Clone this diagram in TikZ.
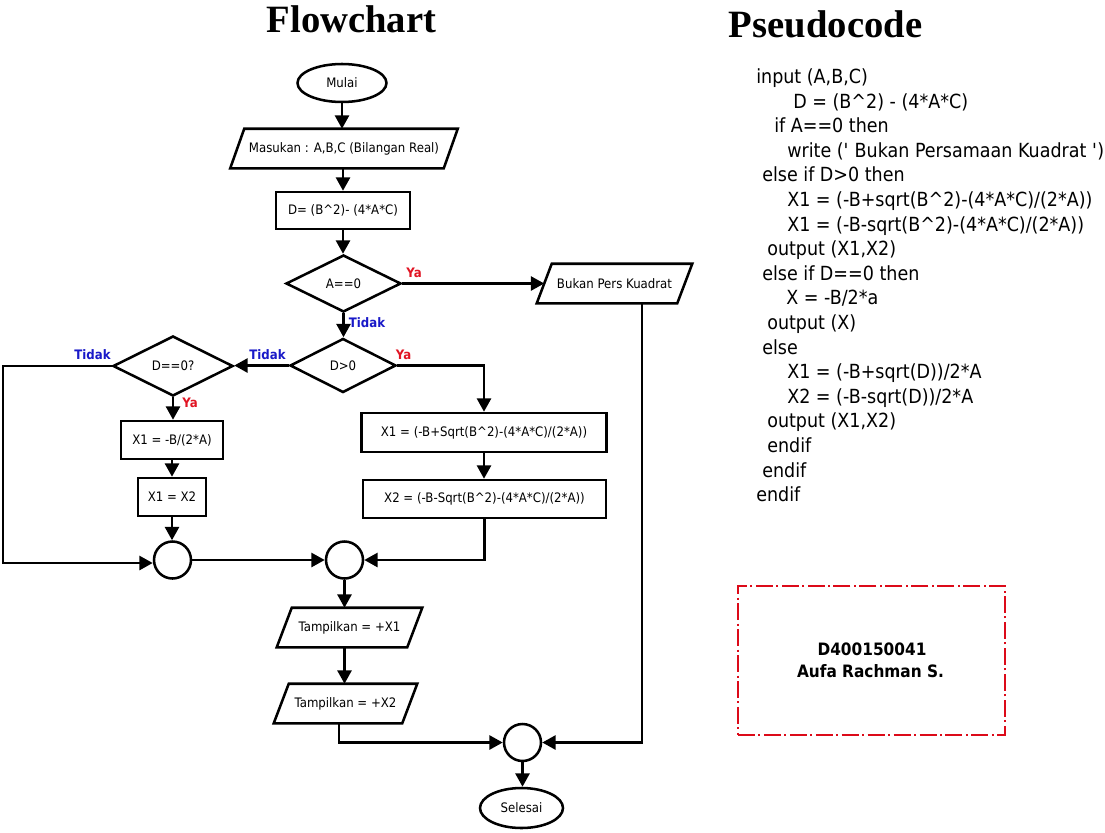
\documentclass[tikz,border=0pt]{standalone}
\usepackage{fontspec}
\setmainfont{DejaVu Sans}[FakeStretch=0.9]
\newfontfamily\titlefont{Liberation Serif}
\usetikzlibrary{shapes.geometric,arrows.meta,calc}
\definecolor{yared}{RGB}{225,20,35}
\definecolor{tidakblue}{RGB}{25,25,200}
\definecolor{boxred}{RGB}{220,10,25}
\newcommand\paraio[2]{\draw[line] ($(#1.north west)+(#2,0)$) -- ($(#1.north east)+(#2,0)$) -- ($(#1.south east)-(#2,0)$) -- ($(#1.south west)-(#2,0)$) -- cycle;}
\begin{document}
\begin{tikzpicture}[x=0.75pt,y=-0.75pt,
 line/.style={line width=1.9pt},
 arr/.style={line width=1.9pt,-{Triangle[length=10pt,width=10.5pt]}},
 ft/.style={font=\fontsize{9.8}{11}\selectfont},
 procbox/.style={draw,line width=1.9pt,rectangle,inner sep=0pt,ft},
 iobox/.style={rectangle,inner sep=0pt,ft},
 term/.style={draw,line width=1.9pt,ellipse,inner sep=0pt,ft},
 junc/.style={draw,line width=1.9pt,circle,inner sep=0pt,minimum size=27.75pt},
 dec/.style={draw,line width=1.9pt,diamond,inner sep=0pt,ft},
 ya/.style={font=\fontsize{9.8}{11}\selectfont\bfseries,text=yared},
 tidak/.style={font=\fontsize{9.8}{11}\selectfont\bfseries,text=tidakblue},
 code/.style={anchor=base west,inner sep=0pt,font=\fontsize{14.6}{16}\selectfont},
 title/.style={anchor=base,inner sep=0pt,font=\titlefont\bfseries\fontsize{29}{32}\selectfont},
 namefont/.style={anchor=base,inner sep=0pt,font=\fontsize{12.8}{14}\selectfont\bfseries},
]
\fill[white] (0,0) rectangle (1105,832);
\useasboundingbox (0,0) rectangle (1105,832);

% titles
\node[title] (tflow) at (351.5,32.5) {Flowchart};
\node[title] (tpseudo) at (825.5,37.5) {Pseudocode};

% flowchart nodes
\node[term,minimum width=66.75pt,minimum height=28.5pt] (mulai) at (342,83) {Mulai};
\node[iobox,minimum width=159.75pt,minimum height=29.25pt] (input) at (344,148.5) {Masukan : A,B,C (Bilangan Real)};
\paraio{input}{7}
\node[procbox,minimum width=100.5pt,minimum height=27.75pt] (dcalc) at (343,210.5) {D= (B\textasciicircum 2)- (4*A*C)};
\node[dec,minimum width=86.25pt,minimum height=42.75pt] (a0) at (343.5,283.5) {A==0};
\node[iobox,minimum width=105pt,minimum height=29.25pt] (bukan) at (614.5,283.5) {Bukan Pers Kuadrat};
\paraio{bukan}{7.5}
\node[dec,minimum width=79.5pt,minimum height=40.5pt] (dpos) at (343,365.5) {D>0};
\node[dec,minimum width=90pt,minimum height=45pt] (dzero) at (173,366) {D==0?};
\node[procbox,minimum width=76.5pt,minimum height=28.5pt] (xa) at (172,440) {X1 = -B/(2*A)};
\node[procbox,minimum width=51pt,minimum height=28.5pt] (xb) at (172,497) {X1 = X2};
\node[procbox,minimum width=183.75pt,minimum height=29.25pt] (xone) at (484,432.5) {X1 = (-B+Sqrt(B\textasciicircum 2)-(4*A*C)/(2*A))};
\node[procbox,minimum width=182.25pt,minimum height=28.5pt] (xtwo) at (484.5,499) {X2 = (-B-Sqrt(B\textasciicircum 2)-(4*A*C)/(2*A))};
\node[junc] (c1) at (172.5,560) {};
\node[junc] (c2) at (344.5,560) {};
\node[junc] (c3) at (522.5,742.5) {};
\node[iobox,minimum width=97.5pt,minimum height=29.25pt] (t1) at (349.5,627.5) {Tampilkan = +X1};
\paraio{t1}{7.5}
\node[iobox,minimum width=96pt,minimum height=29.25pt] (t2) at (345.5,703.5) {Tampilkan = +X2};
\paraio{t2}{7.5}
\node[term,minimum width=62.25pt,minimum height=30pt] (selesai) at (521.5,808) {Selesai};
\coordinate (lc) at (3,563);

% connectors
\draw[arr] (mulai.south) -- (mulai.south |- input.north);
\draw[arr] (dcalc.north |- input.south) -- (dcalc.north);
\draw[arr] (dcalc.south) -- (dcalc.south |- a0.north);
\draw[arr] (a0.east) -- (bukan.west);
\draw[arr] (a0.south) -- (a0.south |- dpos.north);
\draw[arr] (dpos.west) -- (dpos.west -| dzero.east);
\draw[arr] (dpos.east) -| (xone.north);
\draw[arr] (xone.south) -- (xone.south |- xtwo.north);
\draw[arr] (xtwo.south) |- (c2.east);
\draw[arr] (dzero.south) -- (dzero.south |- xa.north);
\draw[arr] (xa.south) -- (xb.north);
\draw[arr] (xb.south) -- (xb.south |- c1.north);
\draw[arr] (dzero.west) -| (lc) -- (c1.west |- lc);
\draw[arr] (c1.east) -- (c2.west);
\draw[arr] (c2.south) -- (c2.south |- t1.north);
\draw[arr] (c2.south |- t1.south) -- (c2.south |- t2.north);
\draw[arr] ($(t2.south)+(-6.5,0)$) |- (c3.west);
\draw[arr] ($(bukan.south)+(27.5,0)$) |- (c3.east);
\draw[arr] (c3.south) -- (c3.south |- selesai.north);

% branch labels
\node[ya] (ya1) at (414,273) {Ya};
\node[tidak] (td1) at (367,322.5) {Tidak};
\node[tidak] (td2) at (267.5,354.5) {Tidak};
\node[ya] (ya2) at (403.5,355) {Ya};
\node[tidak] (td3) at (92.5,354.5) {Tidak};
\node[ya] (ya3) at (190,403) {Ya};

% pseudocode
\node[code] (p0) at (756,83.5) {input (A,B,C)};
\node[code] (p1) at (793,108.1) {D = (B\textasciicircum 2) - (4*A*C)};
\node[code] (p2) at (774,132.7) {if A==0 then};
\node[code] (p3) at (787,157.3) {write (\textquotesingle{} Bukan Persamaan Kuadrat \textquotesingle)};
\node[code] (p4) at (762,181.9) {else if D>0 then};
\node[code] (p5) at (787,206.5) {X1 = (-B+sqrt(B\textasciicircum 2)-(4*A*C)/(2*A))};
\node[code] (p6) at (787,231.1) {X1 = (-B-sqrt(B\textasciicircum 2)-(4*A*C)/(2*A))};
\node[code] (p7) at (767,255.7) {output (X1,X2)};
\node[code] (p8) at (762,280.3) {else if D==0 then};
\node[code] (p9) at (786,304.9) {X = -B/2*a};
\node[code] (p10) at (767,329.5) {output (X)};
\node[code] (p11) at (762,354.1) {else};
\node[code] (p12) at (787,378.7) {X1 = (-B+sqrt(D))/2*A};
\node[code] (p13) at (787,403.3) {X2 = (-B-sqrt(D))/2*A};
\node[code] (p14) at (767,427.9) {output (X1,X2)};
\node[code] (p15) at (767,452.5) {endif};
\node[code] (p16) at (762,477.1) {endif};
\node[code] (p17) at (756,501.7) {endif};

% name box
\node[draw=boxred,line width=1.6pt,dash pattern=on 12.75pt off 2.6pt on 1.5pt off 2.6pt,
      minimum width=200.25pt,minimum height=111.75pt,inner sep=0pt] (namebox) at (871.5,660.5) {};
\node[namefont] (nim) at (872,655) {D400150041};
\node[namefont] (nama) at (870.5,677.5) {Aufa Rachman S.};
\end{tikzpicture}
\end{document}
